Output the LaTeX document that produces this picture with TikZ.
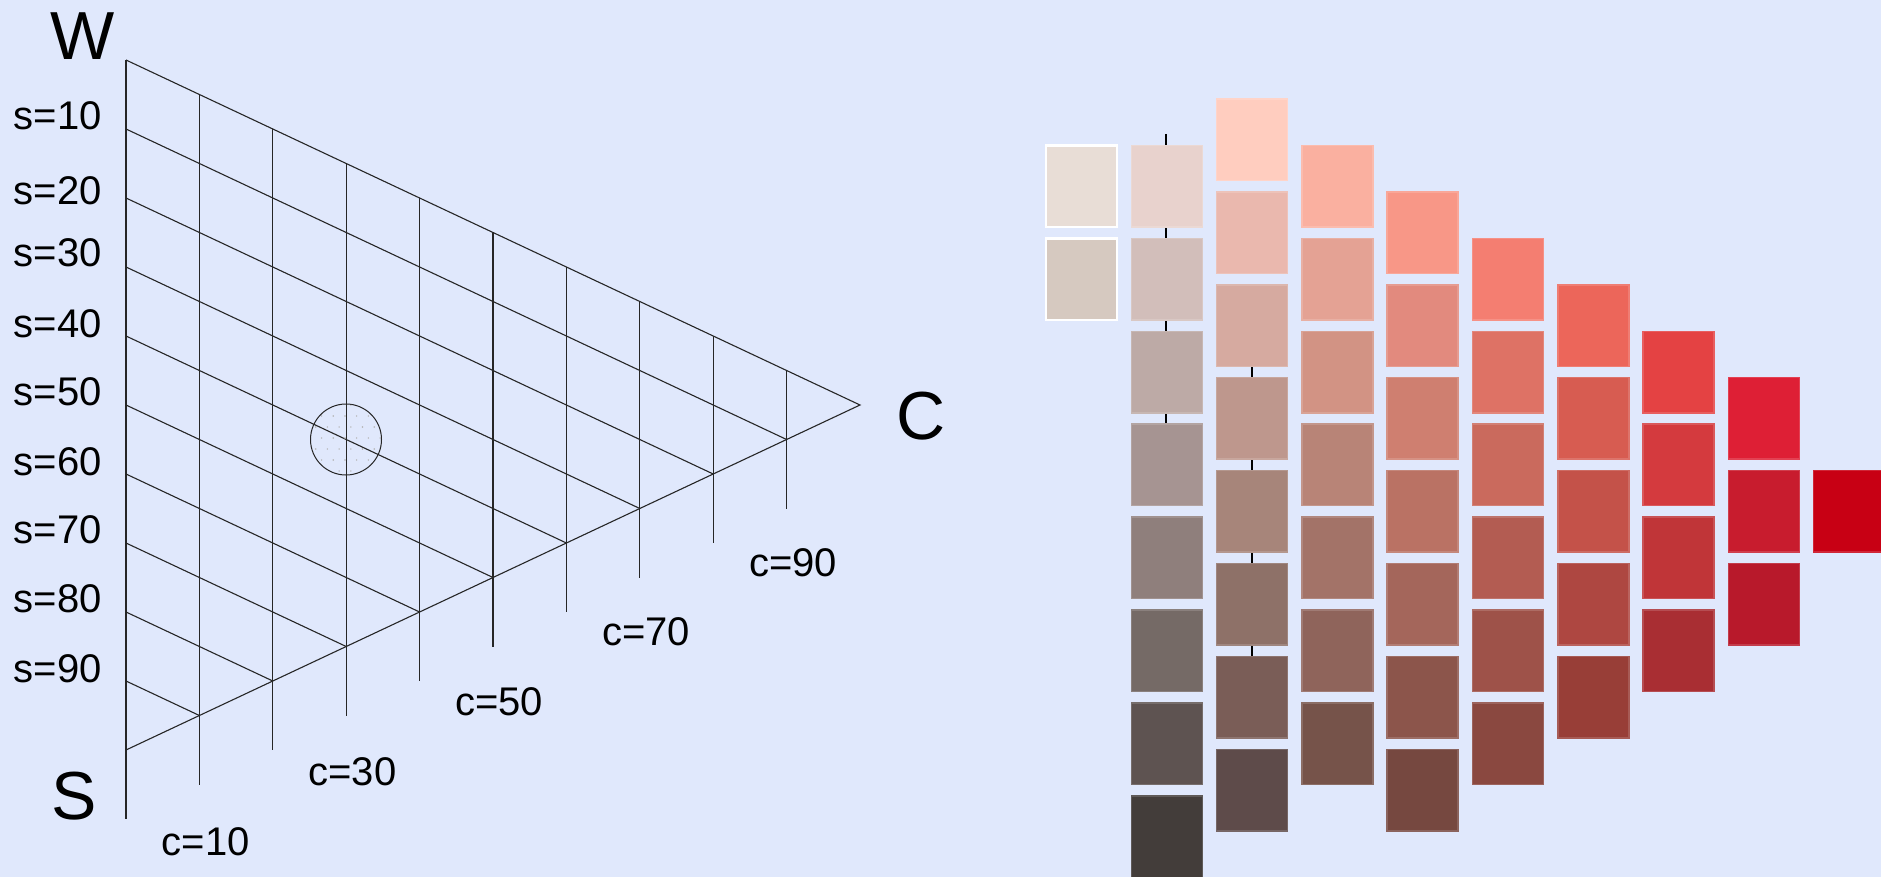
\documentclass[tikz,border=0pt]{standalone}
\usepackage{fontspec}
\setmainfont{Liberation Sans}
\usetikzlibrary{calc}
\definecolor{bg}{HTML}{E0E8FC}
\tikzset{
  gridline/.style={line width=1.1pt, draw=black!85},
  slab/.style={font=\fontsize{40}{48}\selectfont, inner sep=0pt, anchor=base east},
  clab/.style={font=\fontsize{40}{48}\selectfont, inner sep=0pt, anchor=base},
  biglab/.style={font=\fontsize{68}{80}\selectfont, inner sep=0pt, anchor=base},
  sq/.style={rectangle, anchor=north west, inner sep=0pt, outer sep=0pt,
    minimum width=71pt, minimum height=81.5pt, line width=1.5pt},
  axisbar/.style={line width=2.5pt, draw=black}
}
\begin{document}
\begin{tikzpicture}[x=1pt, y=-1pt]
\useasboundingbox (0,0) rectangle (1881,877);
\fill[bg] (0,0) rectangle (1881,877);

% ---------- triangle grid ----------
\coordinate (W) at (126,60);
\coordinate (S) at (126,750);
\coordinate (C) at (860,405);
\draw[gridline] (W) -- (C) -- (S);
\draw[gridline] (W) -- ($(S)+(0,69)$);
\foreach \k in {1,...,9} {
  \draw[gridline] ($(W)!\k/10!(C)$) -- ($(S)!\k/10!(C)+(0,69)$);
}
\foreach \j in {1,...,9} {
  \draw[gridline] ($(W)!\j/10!(S)$) -- ($(S)!{(10-\j)/10}!(C)$);
}

% spot
\node[circle, draw=black!85, line width=1pt, minimum size=71pt, inner sep=0pt] (spot) at (346,439.5) {};
\begin{scope}
  \clip (346,439.5) circle (35);
  \foreach \i in {0,...,7} {
    \foreach \m in {0,...,7} {
      \fill[black!30] ({304+11.7*\m+5.85*mod(\i,2)}, {405+11*\i}) circle (0.8);
    }
  }
\end{scope}

% labels
\node[biglab] (lW) at (83,60) {W};
\node[biglab] (lS) at (74,819) {S};
\node[biglab] (lC) at (921,439) {C};

\node[slab] (s10) at (102,130) {s=10};
\node[slab] (s20) at (102,205) {s=20};
\node[slab] (s30) at (102,267) {s=30};
\node[slab] (s40) at (102,337) {s=40};
\node[slab] (s50) at (102,405) {s=50};
\node[slab] (s60) at (102,475) {s=60};
\node[slab] (s70) at (102,543) {s=70};
\node[slab] (s80) at (102,612) {s=80};
\node[slab] (s90) at (102,682) {s=90};

\node[clab] (c10) at (205.7,855) {c=10};
\node[clab] (c30) at (352.5,785) {c=30};
\node[clab] (c50) at (499.3,715) {c=50};
\node[clab] (c70) at (646,645) {c=70};
\node[clab] (c90) at (793,576) {c=90};

% ---------- colour chart ----------
\coordinate (b1t) at (1166,134);
\coordinate (b1b) at (1166,425);
\coordinate (b2t) at (1252,366);
\coordinate (b2b) at (1252,657);
\draw[axisbar] (b1t) -- (b1b);
\draw[axisbar] (b2t) -- (b2b);

\definecolor{c0a}{HTML}{E8DDD6}
\definecolor{c0b}{HTML}{D6C9C0}
\node[sq, fill=c0a, draw=white, line width=2.5pt] (q0-1) at (1046,{99+46.45*1}) {};
\node[sq, fill=c0b, draw=white, line width=2.5pt] (q0-3) at (1046,{99+46.45*3}) {};

\foreach \c/\r/\h in {
  1/1/E8D2CD, 1/3/D2BEBA, 1/5/BDAAA6, 1/7/A69492, 1/9/8F7F7C, 1/11/756A66, 1/13/5E5351, 1/15/433D3A,
  2/0/FFCDBF, 2/2/EAB8AE, 2/4/D6AAA0, 2/6/BE978D, 2/8/A7857A, 2/10/8E7168, 2/12/7A5D57, 2/14/5E4B4A,
  3/1/FAB0A0, 3/3/E4A294, 3/5/D29384, 3/7/B88477, 3/9/A37368, 3/11/8F645B, 3/13/76534A,
  4/2/F89787, 4/4/E28A7E, 4/6/CF7F70, 4/8/BA7264, 4/10/A4665B, 4/12/8C554B, 4/14/764840,
  5/3/F47E71, 5/5/DE7265, 5/7/CA6A5D, 5/9/B35C52, 5/11/9E5249, 5/13/8A4840,
  6/4/EC665A, 6/6/D75C51, 6/8/C45249, 6/10/AE4741, 6/12/983E37,
  7/5/E44243, 7/7/D43A3E, 7/9/C03538, 7/11/A92E33,
  8/6/DE1F35, 8/8/C81C2E, 8/10/B8192B,
  9/8/C80014} {
  \definecolor{sqc}{HTML}{\h}
  \node[sq, fill=sqc, draw=sqc!85!white] (q\c-\r) at ({1046+85.3*\c}, {99+46.45*\r}) {};
}
\end{tikzpicture}
\end{document}
